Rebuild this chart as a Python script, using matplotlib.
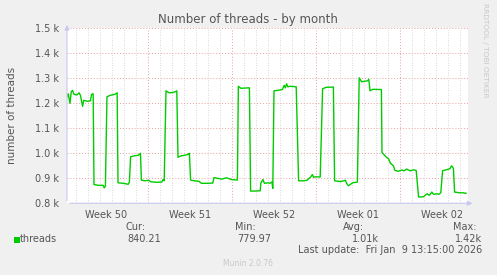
import matplotlib
matplotlib.use('Agg')
import matplotlib.pyplot as plt
import numpy as np

plt.rcParams.update({'font.family': 'DejaVu Sans'})

# days since left edge of the graph, thread count
days = [0.00, 0.10, 0.25, 0.35, 0.45, 0.60, 0.85, 1.00, 1.12, 1.22, 1.30, 1.40, 1.70, 1.95, 2.05, 2.18,
        2.25, 2.60, 3.00, 3.10, 3.20,
        3.33, 3.60, 4.00, 4.18,
        4.25, 4.70, 5.10, 5.20,
        5.30, 5.60, 5.95, 6.12,
        6.20, 6.50, 6.80, 7.00, 7.50, 7.90, 8.00, 8.10,
        8.25, 8.50, 8.80, 9.00, 9.15,
        9.25, 9.50, 9.80, 10.10, 10.20,
        10.30, 10.60, 11.00, 11.20, 11.70, 12.15,
        12.25, 12.50, 12.90, 13.30, 13.70, 14.20,
        14.28, 14.50, 14.80, 15.20,
        15.30, 15.70, 16.10, 16.15, 16.33, 16.45, 16.80, 16.90, 17.08, 17.15,
        17.25, 17.60, 17.95, 18.10, 18.20, 18.30, 18.40, 18.60, 19.10,
        19.30, 19.70, 20.00, 20.30, 20.45, 20.55, 20.70, 21.10,
        21.30, 21.60, 22.20,
        22.30, 22.80, 23.20, 23.30, 23.45, 23.80, 24.20,
        24.35, 24.55, 24.80, 25.05, 25.15,
        25.25, 25.50, 26.20,
        26.25, 26.60, 26.80, 26.95, 27.20, 27.32, 27.60, 27.90, 28.10, 28.30, 28.60, 28.90, 29.10,
        29.30, 29.70, 29.90, 30.00, 30.20, 30.40, 30.55, 30.80, 31.00, 31.15,
        31.30, 31.60, 31.90, 32.05, 32.20,
        32.30, 32.70, 33.00, 33.25]
threads = [1226, 1238, 1200, 1245, 1252, 1235, 1234, 1242, 1232, 1208, 1188, 1212, 1208, 1210, 1236, 1238,
           875, 872, 872, 862, 868,
           1226, 1232, 1236, 1242,
           882, 880, 876, 884,
           986, 990, 992, 1000,
           893, 890, 892, 886, 884, 885, 895, 890,
           1250, 1242, 1243, 1246, 1250,
           984, 990, 992, 996, 1000,
           893, 890, 888, 880, 880, 881,
           903, 900, 897, 902, 895, 893,
           1268, 1260, 1261, 1262,
           849, 849, 850, 880, 895, 880, 882, 880, 885, 860,
           1250, 1252, 1255, 1272, 1262, 1278, 1266, 1268, 1266,
           890, 890, 892, 905, 915, 904, 906, 905,
           1258, 1264, 1265,
           890, 887, 892, 880, 870, 882, 885,
           1302, 1286, 1288, 1290, 1296,
           1250, 1256, 1255,
           1003, 985, 978, 960, 950, 932, 928, 933, 930, 937, 930, 934, 931,
           825, 826, 834, 838, 832, 845, 836, 838, 836, 842,
           930, 934, 938, 950, 940,
           845, 842, 842, 840]

yticks = [800, 900, 1000, 1100, 1200, 1300, 1400, 1500]
ytick_labels = ['0.8 k', '0.9 k', '1.0 k', '1.1 k', '1.2 k', '1.3 k', '1.4 k', '1.5 k']
week_bounds = [6.75, 13.75, 20.75, 27.75]
week_centers = [3.25, 10.25, 17.25, 24.25, 31.25]
week_labels = ['Week 50', 'Week 51', 'Week 52', 'Week 01', 'Week 02']

W, H = 497, 275
fig = plt.figure(figsize=(W / 100, H / 100), dpi=100, facecolor='#f0f0f0')
ax = fig.add_axes([67 / W, (H - 203.3) / H, (468 - 67) / W, (203.3 - 28.3) / H])
ax.set_facecolor('white')
ax.set_xlim(0, 401 / 12)
ax.set_ylim(800, 1500)

txt = '#555555'
# day grid, week grid, value grid
for d in np.arange(7.75 - 7, 401 / 12, 1.0):
    if min(abs(d - w) for w in week_bounds) > 0.01:
        ax.axvline(d, color='#cccccc', lw=0.6, ls=(0, (1, 2)), zorder=1)
for w in week_bounds:
    ax.axvline(w, color='#e8a0a0', lw=0.7, ls=(0, (1, 2)), zorder=1)
for y in yticks[1:]:
    ax.axhline(y, color='#e8a0a0', lw=0.7, ls=(0, (1, 2)), zorder=1)

ax.plot(days, threads, color='#00cc00', lw=1.0, zorder=3)

for s in ax.spines.values():
    s.set_visible(False)
ax.set_yticks(yticks)
ax.set_yticklabels(ytick_labels)
ax.set_xticks(week_centers)
ax.set_xticklabels(week_labels)
ax.tick_params(axis='both', length=0, labelsize=7, colors=txt, pad=6)
ax.tick_params(axis='x', pad=5)

# axis lines with arrows
ax.annotate('', xy=(0, 1.035), xytext=(0, 0), xycoords='axes fraction',
            arrowprops=dict(arrowstyle='-|>', color='#c8c8f0', lw=0.8, mutation_scale=7), annotation_clip=False)
ax.annotate('', xy=(1.018, 0), xytext=(0, 0), xycoords='axes fraction',
            arrowprops=dict(arrowstyle='-|>', color='#c8c8f0', lw=0.8, mutation_scale=7), annotation_clip=False)

def ft(x, y, s, **kw):
    kw.setdefault('color', txt)
    kw.setdefault('fontsize', 7)
    fig.text(x / W, 1 - y / H, s, **kw)

ft(248, 19, 'Number of threads - by month', fontsize=8.5, ha='center', va='center')
ft(12, 115, 'number of threads', fontsize=7.5, rotation=90, ha='center', va='center')
ft(485, 50, 'RRDTOOL / TOBI OETIKER', fontsize=5.3, rotation=270, ha='center', va='center', color='#c8c8c8')

fig.patches.append(plt.Rectangle((14 / W, 1 - 243 / H), 6 / W, 6 / H, transform=fig.transFigure,
                                 facecolor='#00cc00', edgecolor='none'))
ft(20, 239.5, 'threads', ha='left', va='center')
for xr, lab, val in [(146, 'Cur:', '840.21'), (256, 'Min:', '779.97'), (364, 'Avg:', '1.01k'), (477, 'Max:', '1.42k')]:
    ft(xr, 227, lab, ha='right', va='center')
ft(161, 239.5, '840.21', ha='right', va='center')
ft(271, 239.5, '779.97', ha='right', va='center')
ft(379, 239.5, '1.01k', ha='right', va='center')
ft(482, 239.5, '1.42k', ha='right', va='center')
ft(482, 250, 'Last update:  Fri Jan  9 13:15:00 2026', ha='right', va='center')
ft(248, 263, 'Munin 2.0.76', fontsize=5.5, ha='center', va='center', color='#c8c8c8')

fig.savefig('out.png', dpi=100, facecolor=fig.get_facecolor())
